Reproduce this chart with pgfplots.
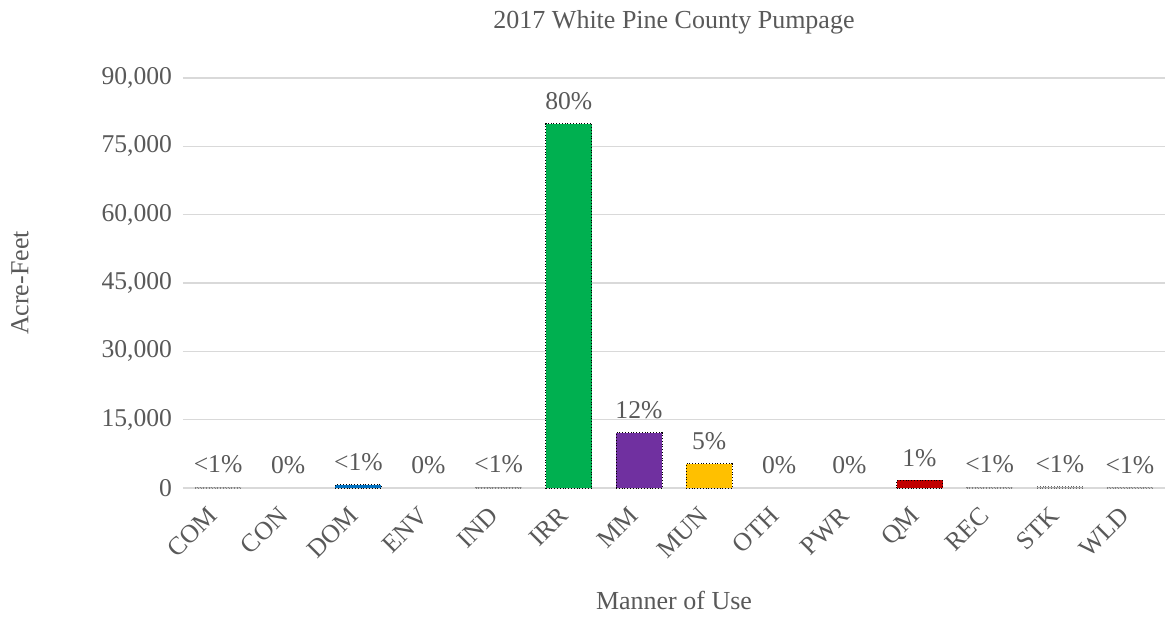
\documentclass[border=0pt]{standalone}
\usepackage{pgfplots}
\pgfplotsset{compat=1.18}
\usepackage{fontspec}
\setmainfont{Liberation Serif}
\definecolor{txt}{HTML}{595959}
\definecolor{gridc}{HTML}{D9D9D9}
\definecolor{cblue}{HTML}{0070C0}
\definecolor{cgreen}{HTML}{00B050}
\definecolor{cpurple}{HTML}{7030A0}
\definecolor{cgold}{HTML}{FFC000}
\definecolor{cred}{HTML}{C00000}
\definecolor{cgrey}{HTML}{A5A5A5}
\begin{document}
\begin{tikzpicture}
\begin{axis}[
  at={(0,0)}, anchor=south west,
  scale only axis, width=491pt, height=205pt,
  ybar, bar width=23pt, bar shift=0pt,
  xmin=-0.5, xmax=13.5, ymin=0, ymax=90000,
  xtick={0,...,13},
  xticklabels={COM,CON,DOM,ENV,IND,IRR,MM,MUN,OTH,PWR,QM,REC,STK,WLD},
  ytick={0,15000,...,90000},
  scaled y ticks=false,
  /pgf/number format/assume math mode=true,
  /pgf/number format/.cd, fixed, 1000 sep={,}, /pgfplots/.cd,
  major tick length=0pt,
  ymajorgrids, grid style={gridc, line width=0.8pt},
  axis line style={draw=none},
  tick label style={font=\fontsize{12.8}{14}\selectfont, text=txt},
  yticklabel style={xshift=-2pt},
  xticklabel style={rotate=45, anchor=north east, inner sep=1pt, xshift=-8.8pt, yshift=-1pt},
  label style={font=\fontsize{13}{15}\selectfont, text=txt},
  xlabel={Manner of Use},
  xlabel style={at={(rel axis cs:0.5,0)}, anchor=center, yshift=-56pt},
  ylabel={Acre-Feet},
  ylabel style={at={(rel axis cs:0,0.5)}, anchor=center, yshift=81.5pt},
  title={2017 White Pine County Pumpage},
  title style={font=\fontsize{13}{15}\selectfont, text=txt, at={(rel axis cs:0.5,1)}, anchor=center, yshift=22pt},
  nodes near coords={\pgfplotspointmeta},
  point meta=explicit symbolic,
  every node near coord/.append style={font=\fontsize{12.8}{14}\selectfont, text=txt, yshift=3.5pt},
]
\draw[gridc, line width=0.8pt] (rel axis cs:0,0) -- (rel axis cs:1,0);
\addplot[draw=gray, densely dotted, fill=cgrey] coordinates {(0,150) [<1\%] (4,200) [<1\%] (11,150) [<1\%] (13,120) [<1\%]};
\addplot[draw=none, fill=none] coordinates {(1,0) [0\%] (3,0) [0\%] (8,0) [0\%] (9,0) [0\%]};
\addplot[draw=black, densely dotted, fill=cblue] coordinates {(2,700) [<1\%]};
\addplot[draw=black, densely dotted, fill=cgreen] coordinates {(5,80000) [80\%]};
\addplot[draw=black, densely dotted, fill=cpurple] coordinates {(6,12100) [12\%]};
\addplot[draw=black, densely dotted, fill=cgold] coordinates {(7,5300) [5\%]};
\addplot[draw=black, densely dotted, fill=cred] coordinates {(10,1650) [1\%]};
\addplot[draw=black!60, densely dotted, fill=cgrey] coordinates {(12,320) [<1\%]};
\end{axis}
\pgfresetboundingbox
\useasboundingbox (-91.5pt,-64.5pt) rectangle (492pt,244pt);
\end{tikzpicture}
\end{document}
